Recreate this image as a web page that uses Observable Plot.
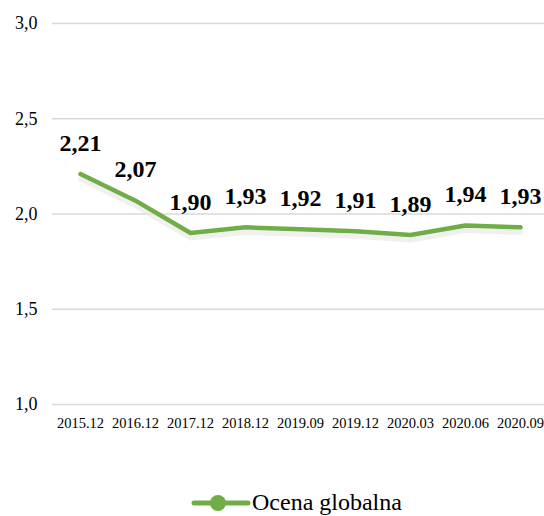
<!DOCTYPE html>
<html><head><meta charset="utf-8">
<script src="https://cdn.jsdelivr.net/npm/d3@7"></script>
<script src="https://cdn.jsdelivr.net/npm/@observablehq/plot@0.6"></script>
<style>
body{margin:0;background:#fff;font-family:"Liberation Serif","Times New Roman",serif;overflow:hidden;}
#wrap{position:relative;width:544px;height:516px;}
svg text{font-family:"Liberation Serif","Times New Roman",serif !important;}
#legend{position:absolute;left:0;top:440px;}
</style></head><body>
<div id="wrap">
<div id="chart"></div>
<svg id="legend" width="544" height="76"></svg>
</div>
<script>
const periods = ["2015.12","2016.12","2017.12","2018.12","2019.09","2019.12","2020.03","2020.06","2020.09"];
const values = [2.21, 2.07, 1.90, 1.93, 1.92, 1.91, 1.89, 1.94, 1.93];
const yTicks = [1.0, 1.5, 2.0, 2.5, 3.0];
const seriesName = "Ocena globalna";
const green = "#70AD47";

const data = periods.map((p, i) => ({period: p, value: values[i]}));
const fmt = d => d.toFixed(2).replace(".", ",");
const fmtY = d => d.toFixed(1).replace(".", ",");
const serif = "Liberation Serif, Times New Roman, serif";

const chart = Plot.plot({
  width: 544,
  height: 440,
  marginTop: 23,
  marginBottom: 36,
  marginLeft: 52,
  marginRight: 0,
  style: {fontFamily: serif, color: "#000", background: "#fff"},
  x: {type: "point", domain: periods, range: [80, 520], padding: 0, label: null},
  y: {domain: [1, 3], ticks: yTicks, label: null},
  marks: [
    Plot.ruleY(yTicks, {stroke: "#d9d9d9", strokeWidth: 1.5}),
    Plot.axisY({ticks: yTicks, tickFormat: fmtY, tickSize: 0, tickPadding: 15, fontSize: 18, fontFamily: serif, label: null}),
    Plot.axisX({tickSize: 0, tickPadding: 13, fontSize: 14.5, fontFamily: serif, label: null}),
    Plot.line(data, {x: "period", y: "value", stroke: "#e6e6e6", strokeWidth: 5, dy: 5, strokeOpacity: 0.6}),
    Plot.line(data, {x: "period", y: "value", stroke: green, strokeWidth: 4.5, strokeLinejoin: "round", strokeLinecap: "round"}),
    Plot.text(data, {x: "period", y: "value", text: d => fmt(d.value), dy: -31, fontSize: 24, fontWeight: "bold", fontFamily: serif, fill: "#000"})
  ]
});
document.getElementById("chart").appendChild(chart);

// legend below the chart
const lg = d3.select("#legend");
lg.append("line").attr("x1", 194).attr("x2", 248).attr("y1", 63).attr("y2", 63)
  .attr("stroke", green).attr("stroke-width", 5).attr("stroke-linecap", "round");
lg.append("circle").attr("cx", 218).attr("cy", 63).attr("r", 8).attr("fill", green);
lg.append("text").attr("x", 252).attr("y", 70).attr("font-size", 24).attr("fill", "#000").text(seriesName);
</script>
</body></html>
